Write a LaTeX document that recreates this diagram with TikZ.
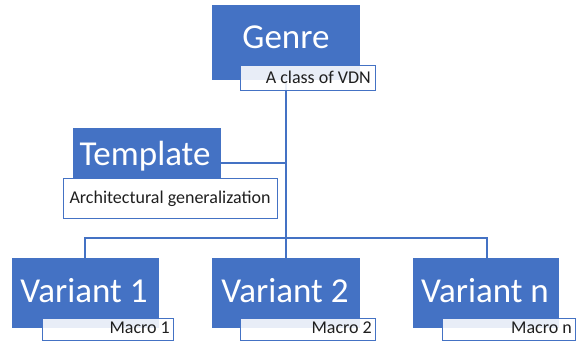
\documentclass[tikz,border=0pt]{standalone}
\usepackage{fontspec}
\setmainfont{Carlito}
\definecolor{obl}{HTML}{4472C4}
\begin{document}
\begin{tikzpicture}[x=1pt,y=-1pt,
  box/.style={fill=obl,draw=obl,line width=0.8pt,inner sep=0pt,anchor=north west},
  tag/.style={draw=obl,line width=1.3pt,fill=white,fill opacity=0.88,inner sep=0pt,anchor=north west},
  title/.style={text=white,font=\fontsize{35}{35}\selectfont,inner sep=0pt},
  small/.style={text=black!88,font=\fontsize{18}{18}\selectfont,inner sep=0pt},
  conn/.style={draw=obl,line width=1.5pt}]
\useasboundingbox (0,0) rectangle (576,343);
% blue boxes
\node[box,minimum width=147pt,minimum height=74pt] (genre) at (212,5) {};
\node[box,minimum width=147pt,minimum height=50pt] (tpl) at (73,128) {};
\node[box,minimum width=146pt,minimum height=69pt] (v1) at (12,258) {};
\node[box,minimum width=147pt,minimum height=69pt] (v2) at (212,258) {};
\node[box,minimum width=145pt,minimum height=69pt] (vn) at (413,258) {};
% connectors
\coordinate (trunkL) at (85,238);
\coordinate (trunkR) at (487,238);
\draw[conn] (genre.south) -- (v2.north);
\draw[conn] (tpl.east |- 0,163) -- (genre.south |- 0,163);
\draw[conn] (v1.north -| trunkL) -- (trunkL) -- (trunkR) -- (vn.north -| trunkR);
% titles
\node[title,anchor=base] (genreT) at (286,48) {Genre};
\node[title,anchor=base] (tplT) at (145,165) {Template};
\node[title,anchor=base] (v1T) at (84,302) {Variant 1};
\node[title,anchor=base] (v2T) at (285,302) {Variant 2};
\node[title,anchor=base] (vnT) at (485,302) {Variant n};
% tags
\node[tag,minimum width=135pt,minimum height=25pt] (gtag) at (240,65) {};
\node[tag,minimum width=214pt,minimum height=40pt] (ttag) at (63,178) {};
\node[tag,minimum width=131pt,minimum height=22pt] (v1tag) at (42,318) {};
\node[tag,minimum width=135pt,minimum height=22pt] (v2tag) at (240,318) {};
\node[tag,minimum width=133pt,minimum height=22pt] (vntag) at (442,318) {};
\node[small,anchor=base east] (gtagT) at (371,83) {A class of VDN};
\node[small,anchor=base] (ttagT) at (170,203) {Architectural generalization};
\node[small,anchor=base east] (v1tagT) at (170,333) {Macro 1};
\node[small,anchor=base east] (v2tagT) at (372,333) {Macro 2};
\node[small,anchor=base east] (vntagT) at (572,333) {Macro n};
\end{tikzpicture}
\end{document}
